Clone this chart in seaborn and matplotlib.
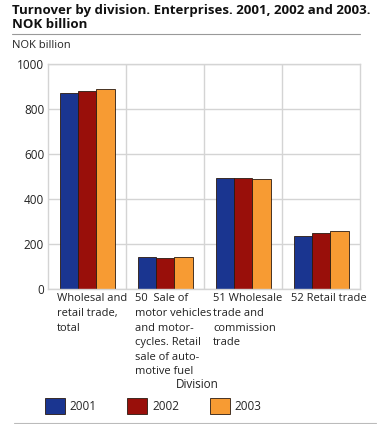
import matplotlib
matplotlib.use("Agg")
import matplotlib.pyplot as plt
import matplotlib.transforms as mtransforms
import pandas as pd
import seaborn as sns

divisions = [
    "Wholesal and\nretail trade,\ntotal",
    "50  Sale of\nmotor vehicles\nand motor-\ncycles. Retail\nsale of auto-\nmotive fuel",
    "51 Wholesale\ntrade and\ncommission\ntrade",
    "52 Retail trade",
]
years = ["2001", "2002", "2003"]
turnover_2001 = [874, 145, 495, 235]
turnover_2002 = [880, 139, 493, 249]
turnover_2003 = [891, 143, 490, 258]

COLORS = ["#1a3590", "#990f0a", "#f79b33"]
GRID = "#d4d4d4"

rows = []
for yr, vals in zip(years, [turnover_2001, turnover_2002, turnover_2003]):
    for d, v in zip(divisions, vals):
        rows.append({"division": d, "year": yr, "value": v})
df = pd.DataFrame(rows)

sns.set_theme(style="white")
plt.rcParams["font.family"] = ["Open Sans", "DejaVu Sans"]

fig = plt.figure(figsize=(3.88, 4.24), dpi=100)
ax = fig.add_axes([48.3 / 388, 1 - 289.3 / 424, 312 / 388, 225 / 424])

sns.barplot(data=df, x="division", y="value", hue="year", order=divisions,
            hue_order=years, palette=COLORS, width=0.7, ax=ax,
            edgecolor="#2a1a10", linewidth=0.6, saturation=1, legend=True)

ax.set_xlim(-0.5, 3.5)
ax.set_ylim(0, 1000)
ax.set_yticks([0, 200, 400, 600, 800, 1000])
ax.tick_params(axis="y", labelsize=8.5, colors="#222222", length=0, pad=3)
ax.set_xlabel("")
ax.set_ylabel("")
ax.set_axisbelow(True)
ax.yaxis.grid(True, color=GRID, linewidth=1)
for b in [0.5, 1.5, 2.5]:
    ax.axvline(b, color=GRID, linewidth=1, zorder=0)
for s in ax.spines.values():
    s.set_color(GRID)
    s.set_linewidth(1)

# category labels, left aligned within each group
ax.set_xticks(range(len(divisions)))
ax.set_xticklabels(divisions, ha="left", fontsize=8, color="#222222",
                   linespacing=1.45, va="top")
ax.tick_params(axis="x", length=0, pad=3)
offset = mtransforms.ScaledTranslation(-30 / 100, 0, fig.dpi_scale_trans)
for lbl in ax.get_xticklabels():
    lbl.set_transform(lbl.get_transform() + offset)

fig.text(197 / 388, 1 - 385 / 424, "Division", ha="center", va="center",
         fontsize=8.5, color="#222222")

handles, labels = ax.get_legend_handles_labels()
ax.legend_.remove()
fig.legend(handles, labels, loc="center left",
           bbox_to_anchor=(34 / 388, 1 - 406 / 424), ncol=3, frameon=False,
           fontsize=8.5, handlelength=1.7, handleheight=1.8, handletextpad=0.4,
           columnspacing=2.6)

fig.text(12 / 388, 1 - 4 / 424,
         "Turnover by division. Enterprises. 2001, 2002 and 2003.\nNOK billion",
         ha="left", va="top", fontsize=9.5, fontweight="bold", color="#111111",
         linespacing=1.15)
fig.add_artist(plt.Line2D([12 / 388, 360 / 388], [1 - 33.5 / 424] * 2,
                          color="#999999", linewidth=0.8))
fig.text(12 / 388, 1 - 45 / 424, "NOK billion", ha="left", va="center",
         fontsize=8, color="#222222")
fig.add_artist(plt.Line2D([14 / 388, 376 / 388], [1 - 423 / 424] * 2,
                          color="#bbbbbb", linewidth=0.8))

fig.savefig("out.png", dpi=100)
